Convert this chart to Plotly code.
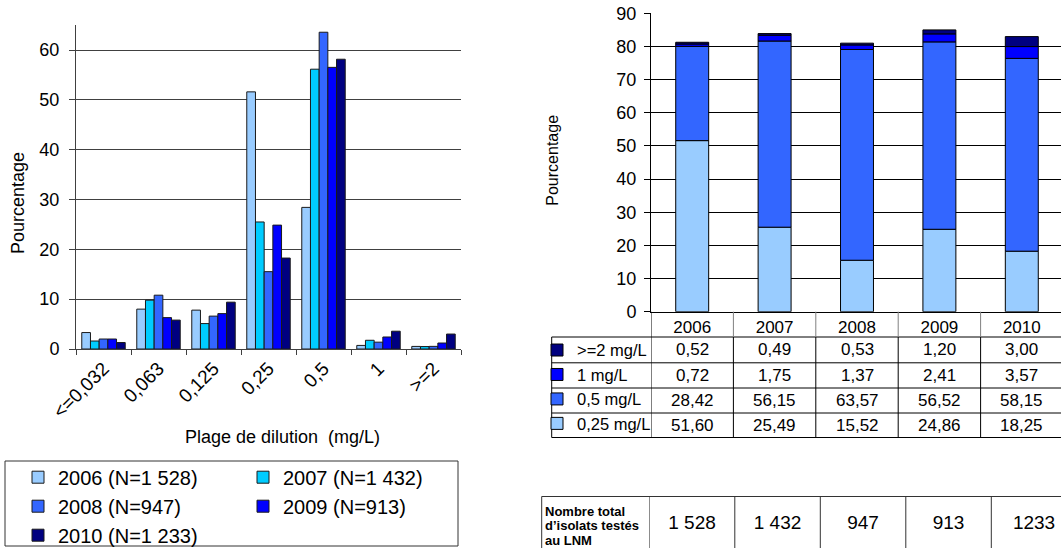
import numpy as np
import plotly.graph_objects as go

W, H = 1061, 548
FONT = "Liberation Sans, Arial, sans-serif"

# ---------------- data ----------------
dilutions = ['<=0,032', '0,063', '0,125', '0,25', '0,5', '1', '>=2']
dilution_ticks = ['&lt;=0,032', '0,063', '0,125', '0,25', '0,5', '1', '&gt;=2']
years = ['2006', '2007', '2008', '2009', '2010']
legend_n = ['1 528', '1 432', '947', '913', '1 233']
table_n = ['1 528', '1 432', '947', '913', '1233']
table_row_label = ['Nombre total', 'd’isolats testés', 'au LNM']

pct_2006 = [3.3, 8.0, 7.8, 51.60, 28.42, 0.72, 0.52]
pct_2007 = [1.6, 9.8, 5.1, 25.49, 56.15, 1.75, 0.49]
pct_2008 = [2.0, 10.8, 6.6, 15.52, 63.57, 1.37, 0.53]
pct_2009 = [2.0, 6.3, 7.1, 24.86, 56.52, 2.41, 1.20]
pct_2010 = [1.3, 5.8, 9.4, 18.25, 58.15, 3.57, 3.00]

stack_labels = ['0,25 mg/L', '0,5 mg/L', '1 mg/L', '&gt;=2 mg/L']
s_025 = [51.60, 25.49, 15.52, 24.86, 18.25]
s_05 = [28.42, 56.15, 63.57, 56.52, 58.15]
s_1 = [0.72, 1.75, 1.37, 2.41, 3.57]
s_2 = [0.52, 0.49, 0.53, 1.20, 3.00]

year_colors = ['#99CCFF', '#00CCFF', '#3366FF', '#0000FF', '#000080']
stack_colors = ['#99CCFF', '#3366FF', '#0000FF', '#000080']

fig = go.Figure()

# ---------------- left grouped bar chart ----------------
year_series = [pct_2006, pct_2007, pct_2008, pct_2009, pct_2010]
legend_ids = ['legend', 'legend2', 'legend', 'legend2', 'legend']
for yr, n, vals, col, lg in zip(years, legend_n, year_series, year_colors, legend_ids):
    fig.add_trace(go.Bar(
        x=dilutions, y=vals, name=f"{yr} (N={n})",
        marker=dict(color=col, line=dict(color='#1a1a1a', width=1)),
        xaxis='x', yaxis='y', legend=lg, hoverinfo='skip'))

# ---------------- right stacked bar chart ----------------
stack_series = [s_025, s_05, s_1, s_2]
cum = np.zeros(len(years))
for lab, vals, col in zip(stack_labels, stack_series, stack_colors):
    fig.add_trace(go.Bar(
        x=years, y=vals, base=cum.copy(), name=lab, width=0.4,
        offsetgroup='stack',
        marker=dict(color=col, line=dict(color='#000000', width=1)),
        xaxis='x2', yaxis='y2', legend='legend3', hoverinfo='skip'))
    cum = cum + np.array(vals)

# bottom table values
fig.add_trace(go.Scatter(
    x=years, y=[0] * len(years), text=table_n, mode='text',
    textfont=dict(size=19, color='black', family=FONT),
    xaxis='x3', yaxis='y3', showlegend=False, hoverinfo='skip'))

def px(x):
    return x / W

def py(y):
    return 1 - y / H

shapes = []
annotations = []

# ---------------- right table (values under the stacked chart) ----------------
row_lines = [337, 362.8, 388, 413, 437.5]
row_centers = [(row_lines[i] + row_lines[i + 1]) / 2 for i in range(4)]
tbl_left = 551.7
for yl in row_lines:
    shapes.append(dict(type='line', xref='paper', yref='paper',
                       x0=px(tbl_left), x1=1, y0=py(yl), y1=py(yl),
                       line=dict(color='black', width=1)))
shapes.append(dict(type='line', xref='paper', yref='paper',
                   x0=px(tbl_left), x1=px(tbl_left), y0=py(337), y1=py(437.5),
                   line=dict(color='black', width=1)))
for k in range(len(years)):
    xb = k - 0.5
    shapes.append(dict(type='line', xref='x2', yref='paper', x0=xb, x1=xb,
                       y0=py(311.7), y1=py(337),
                       line=dict(color='black' if k == 0 else '#808080', width=1)))
    shapes.append(dict(type='line', xref='x2', yref='paper', x0=xb, x1=xb,
                       y0=py(337), y1=py(437.5),
                       line=dict(color='black', width=1)))

rows_top_down = list(zip(stack_labels, stack_series))[::-1]
for (lab, vals), yc in zip(rows_top_down, row_centers):
    for i, v in enumerate(vals):
        annotations.append(dict(xref='x2', yref='paper', x=i, y=py(yc),
                                text=f"{v:.2f}".replace('.', ','), showarrow=False,
                                xanchor='center', yanchor='middle',
                                font=dict(size=17, color='black', family=FONT)))

# ---------------- bottom table ----------------
bt_top = 496.5
bt_left = 541.7
shapes.append(dict(type='line', xref='paper', yref='paper', x0=px(bt_left), x1=1,
                   y0=py(bt_top), y1=py(bt_top), line=dict(color='#333333', width=1)))
shapes.append(dict(type='line', xref='paper', yref='paper', x0=px(bt_left), x1=px(bt_left),
                   y0=py(bt_top), y1=0, line=dict(color='#333333', width=1)))
for k in range(len(years)):
    xb = k - 0.5
    shapes.append(dict(type='line', xref='x3', yref='paper', x0=xb, x1=xb,
                       y0=py(bt_top), y1=0, line=dict(color='#333333', width=1)))
for j, line_txt in enumerate(table_row_label):
    annotations.append(dict(xref='paper', yref='paper', x=px(543), y=py(511 + 14.6 * j),
                            xanchor='left', yanchor='middle', align='left', showarrow=False,
                            text=f"<b>{line_txt}</b>",
                            font=dict(size=13, color='black', family=FONT)))

# ---------------- legend box (left) ----------------
shapes.append(dict(type='rect', xref='paper', yref='paper', x0=px(5), x1=px(458),
                   y0=py(546), y1=py(461), line=dict(color='#333333', width=1)))

# ---------------- titles ----------------
annotations.append(dict(xref='paper', yref='paper', x=px(18), y=py(203), text='Pourcentage',
                        textangle=-90, showarrow=False, xanchor='center', yanchor='middle',
                        font=dict(size=18, color='black', family=FONT)))
annotations.append(dict(xref='paper', yref='paper', x=px(282.5), y=py(436.7),
                        text='Plage de dilution\u00a0\u00a0(mg/L)', showarrow=False,
                        xanchor='center', yanchor='middle',
                        font=dict(size=18, color='black', family=FONT)))
annotations.append(dict(xref='paper', yref='paper', x=px(553), y=py(160.7), text='Pourcentage',
                        textangle=-90, showarrow=False, xanchor='center', yanchor='middle',
                        font=dict(size=16, color='black', family=FONT)))

fig.update_layout(
    width=W, height=H,
    margin=dict(l=0, r=0, t=0, b=0, autoexpand=False),
    paper_bgcolor='white', plot_bgcolor='white',
    font=dict(family=FONT, color='black'),
    barmode='group', bargap=0.21, bargroupgap=0,
    xaxis=dict(domain=[px(76), px(461)], anchor='y', type='category',
               categoryorder='array', categoryarray=dilutions,
               tickmode='array', tickvals=dilutions, ticktext=dilution_ticks,
               tickangle=-45, tickfont=dict(size=19, color='black'),
               ticks='outside', tickson='boundaries', ticklen=5, tickcolor='#404040',
               showline=True, linecolor='#404040', linewidth=1, showgrid=False,
               automargin=False, fixedrange=True),
    yaxis=dict(domain=[py(349), py(25.1)], anchor='x', range=[0, 65], dtick=10,
               tickfont=dict(size=18, color='black'), ticks='outside', ticklen=6,
               tickcolor='#404040', showline=True, linecolor='#404040', linewidth=1,
               showgrid=True, gridcolor='#404040', gridwidth=1, zeroline=False,
               ticklabelstandoff=6, automargin=False, fixedrange=True),
    xaxis2=dict(domain=[px(651), 1], anchor='y2', type='category',
                categoryorder='array', categoryarray=years,
                range=[-0.5, -0.5 + (W - 651) / 82.4],
                tickfont=dict(size=17, color='black'), ticks='',
                showline=True, linecolor='black', linewidth=1, showgrid=False,
                automargin=False, fixedrange=True),
    yaxis2=dict(domain=[py(311.7), py(13.3)], anchor='x2', range=[0, 90], dtick=10,
                tickfont=dict(size=18, color='black'), ticks='outside', ticklen=6,
                tickcolor='black', showline=True, linecolor='black', linewidth=1,
                showgrid=True, gridcolor='black', gridwidth=1, zeroline=False,
                ticklabelstandoff=4, automargin=False, fixedrange=True),
    xaxis3=dict(domain=[px(649.3), 1], anchor='y3', type='category',
                categoryorder='array', categoryarray=years,
                range=[-0.5, -0.5 + (W - 649.3) / 85.5], visible=False, fixedrange=True),
    yaxis3=dict(domain=[0, py(500)], anchor='x3', range=[-1, 1], visible=False,
                fixedrange=True),
    legend=dict(x=px(18), y=py(457.7), xanchor='left', yanchor='top',
                font=dict(size=20, color='black', family=FONT),
                bgcolor='rgba(0,0,0,0)', borderwidth=0),
    legend2=dict(x=px(243), y=py(457.7), xanchor='left', yanchor='top',
                 font=dict(size=20, color='black', family=FONT),
                 bgcolor='rgba(0,0,0,0)', borderwidth=0),
    legend3=dict(x=px(537), y=py(332.8), xanchor='left', yanchor='top',
                 traceorder='reversed',
                 font=dict(size=16.5, color='black', family=FONT),
                 bgcolor='rgba(0,0,0,0)', borderwidth=0),
    shapes=shapes, annotations=annotations,
)

fig.write_html("out.html")
